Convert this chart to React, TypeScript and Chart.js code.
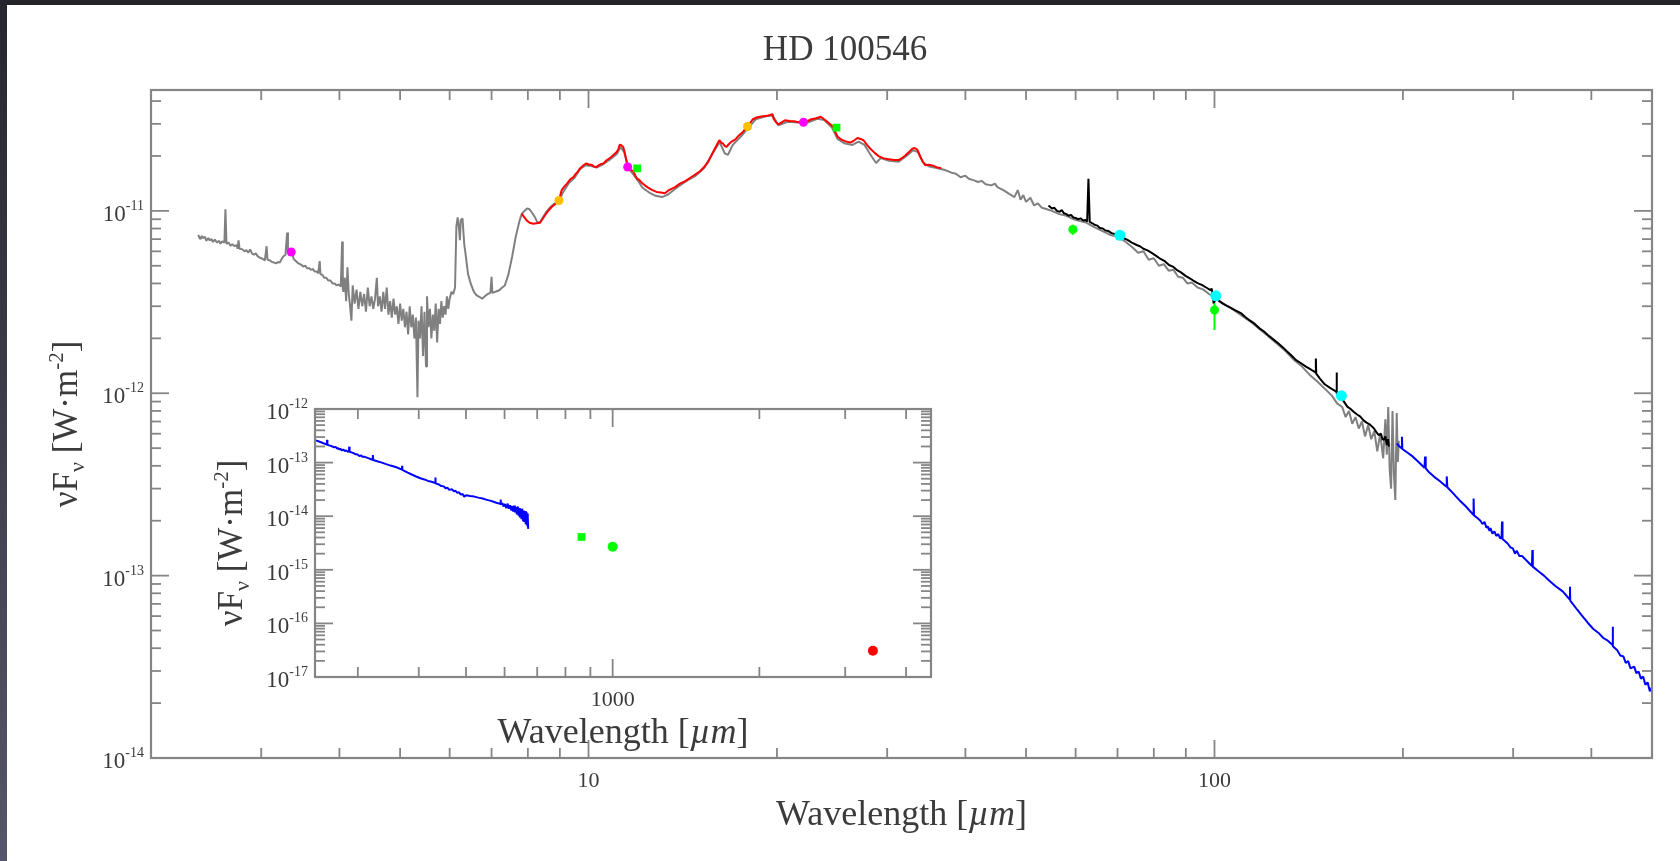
import React, { useEffect, useRef } from 'react';
import { Chart, registerables } from 'chart.js';

Chart.register(...registerables);

const SERIF = "'Liberation Serif', 'Times New Roman', serif";
const TEXT_COLOR = '#3b3b3b';
const AXIS_COLOR = '#858585';
const PW = 1e-12; // flux arrays below are in units of 1e-12 W m^-2

// ---------------- main panel: spectra (wavelength in µm, flux in 1e-12 W m^-2) ----------------
// gray (ISO) spectrum, split in pieces
const grayWaveA = [
  2.38, 2.39, 2.40, 2.41, 2.42, 2.44, 2.45, 2.47, 2.48, 2.50, 2.51, 2.53, 2.55, 2.57, 2.58, 2.60, 2.62, 2.63, 2.64, 2.66,
  2.68, 2.70, 2.72, 2.74, 2.75, 2.76, 2.77, 2.80, 2.82, 2.84, 2.86, 2.88, 2.90, 2.92, 2.94, 2.96, 2.98, 3.00, 3.02, 3.04,
  3.06, 3.07, 3.10, 3.12, 3.15, 3.17, 3.19, 3.21, 3.23, 3.25, 3.28, 3.30, 3.31, 3.33, 3.35, 3.37, 3.38, 3.40, 3.42, 3.44,
  3.46, 3.48, 3.50, 3.53, 3.55, 3.58, 3.60, 3.63, 3.65, 3.68, 3.70, 3.72, 3.73, 3.76, 3.78, 3.81, 3.84, 3.87, 3.90, 3.93,
  3.96, 3.99, 4.02, 4.04, 4.05,
];
const grayFluxA = [
  7.4, 7.1, 7.0, 7.3, 7.1, 7.2, 6.85, 7.1, 6.9, 7.0, 6.75, 6.95, 6.7, 6.85, 6.6, 6.8, 6.7, 10.2, 6.6, 6.7,
  6.45, 6.55, 6.4, 6.5, 6.2, 6.9, 6.2, 6.15, 6.0, 6.1, 5.9, 6.15, 5.85, 5.75, 5.85, 5.65, 5.55, 5.5, 5.45, 5.35,
  6.4, 5.4, 5.35, 5.25, 5.2, 5.15, 5.25, 5.2, 5.4, 5.6, 5.75, 7.6, 5.9, 6.1, 5.9, 5.7, 5.45, 5.35, 5.25, 5.15,
  5.1, 5.05, 4.95, 5.0, 4.85, 4.85, 4.75, 4.8, 4.65, 4.65, 4.55, 5.3, 4.5, 4.45, 4.3, 4.3, 4.15, 4.15, 4.0, 4.0,
  3.9, 3.95, 3.85, 6.8, 3.7,
];
const grayWaveB = [
  4.06, 4.08, 4.10, 4.12, 4.14, 4.16, 4.18, 4.20, 4.23, 4.26, 4.29, 4.32, 4.35, 4.38, 4.41, 4.44, 4.47, 4.50, 4.53, 4.56,
  4.59, 4.61, 4.64, 4.67, 4.70, 4.73, 4.76, 4.79, 4.82, 4.85, 4.88, 4.91, 4.94, 4.97, 5.00, 5.03, 5.06, 5.09, 5.12, 5.15,
  5.18, 5.21, 5.24, 5.27, 5.30, 5.33, 5.35, 5.38, 5.41, 5.44, 5.47, 5.50, 5.52, 5.55, 5.58, 5.61, 5.64, 5.67, 5.70, 5.73,
  5.76, 5.79, 5.82, 5.85, 5.88, 5.91, 5.94, 5.97, 6.00, 6.04, 6.08, 6.12,
];
const grayFluxB = [
  3.6, 4.3, 3.2, 4.9, 3.5, 3.0, 2.5, 3.9, 3.1, 3.7, 2.9, 3.6, 3.0, 3.5, 2.8, 3.8, 3.0, 3.4, 2.9, 3.3,
  4.3, 3.0, 3.4, 2.8, 3.6, 2.9, 3.8, 2.7, 3.2, 2.6, 3.3, 2.7, 3.0, 2.4, 3.1, 2.5, 2.9, 2.3, 2.8, 2.1,
  3.0, 2.3, 2.7, 2.0, 2.6, 0.95, 2.5, 2.0, 3.0, 1.6, 2.8, 1.4, 3.4, 2.3, 2.9, 2.0, 2.7, 2.2, 3.1, 1.9,
  2.9, 2.4, 3.2, 2.6, 3.0, 2.7, 3.4, 2.9, 3.3, 3.6, 3.5, 3.8,
];
const grayWaveC = [
  6.15, 6.18, 6.21, 6.23, 6.25, 6.29, 6.33, 6.37, 6.42, 6.49, 6.56, 6.62, 6.69, 6.76, 6.83, 6.90, 6.97, 7.00, 7.02, 7.10,
  7.20, 7.28, 7.35, 7.45, 7.55, 7.65, 7.75, 7.82, 7.90, 7.98, 8.05, 8.12, 8.20, 8.28, 8.36, 8.45, 8.55, 8.65, 8.80, 8.97,
  9.10, 9.30, 9.50, 9.70, 9.90, 10.1, 10.3, 10.5, 10.8, 11.1, 11.25, 11.4, 11.5, 11.6, 11.8, 12.0, 12.2, 12.5, 12.8, 13.1,
  13.4, 13.8, 14.3, 14.8, 15.3, 15.8, 16.2, 16.5, 16.7, 17.0, 17.5, 18.0, 18.5, 19.2, 19.7, 20.1, 20.8, 21.6, 22.4, 23.2,
  23.8, 24.5, 25.0, 25.6, 26.4, 27.0, 27.6, 28.3, 28.8, 29.3, 30.2, 31.3, 32.2, 33.0, 33.6, 34.2, 35.0, 36.0,
];
const grayFluxC = [
  8.2, 9.2, 8.0, 6.9, 8.9, 9.1, 6.6, 5.6, 4.5, 3.95, 3.6, 3.45, 3.38, 3.3, 3.4, 3.5, 3.55, 4.35, 3.55, 3.6,
  3.67, 3.8, 3.9, 4.5, 5.6, 7.2, 8.7, 9.6, 10.0, 10.3, 10.2, 9.8, 9.3, 8.7, 8.6, 9.2, 9.8, 10.3, 10.9, 11.3,
  12.6, 14.2, 15.2, 17.0, 17.8, 17.6, 17.3, 17.8, 19.0, 20.5, 22.4, 21.0, 19.0, 17.0, 15.8, 14.6, 13.4, 12.6, 12.1, 11.9,
  12.3, 13.3, 14.5, 15.5, 17.2, 20.8, 23.8, 20.7, 20.3, 23.0, 25.5, 28.5, 31.8, 33.0, 33.3, 29.5, 30.8, 30.5, 30.5, 32.0,
  31.5, 28.5, 24.8, 23.5, 23.0, 24.0, 23.0, 20.0, 18.3, 19.5, 18.8, 18.6, 20.0, 21.5, 21.0, 18.5, 17.5, 17.2,
];
const grayWaveD = [
  37.0, 38.0, 38.6, 39.3, 40.0, 40.5, 41.3, 41.9, 42.5, 43.1, 44.0, 44.6, 45.0, 46.0, 47.0, 47.9, 48.5, 49.0, 49.5, 50.0,
  50.8, 51.5, 52.2, 53.0, 54.0, 55.0, 56.5, 58.0, 59.5, 61.0, 62.5, 64.0, 66.0, 68.0, 70.0, 72.0, 74.0, 75.5, 77.0, 78.5,
  80.0, 81.5, 83.0, 84.5, 86.0, 87.5, 89.0, 90.5, 92.0, 94.0, 96.0, 98.0, 100, 103, 106, 110, 114, 118, 122, 126,
  130, 134, 138, 142, 146, 150, 154, 157, 160, 162, 164, 166, 168, 170, 172, 174, 176, 178, 180, 182,
  184, 186, 187.5, 188.5, 189.5, 190.5, 191.5, 192.5, 193.5, 194.5, 195.5, 196.3, 197,
];
const grayFluxD = [
  16.8, 16.2, 16.0, 15.3, 15.6, 15.0, 14.7, 14.4, 14.6, 14.0, 13.8, 14.1, 13.5, 13.0, 12.4, 11.9, 13.0, 11.5, 12.2, 11.2,
  11.8, 10.7, 11.0, 10.4, 10.2, 10.0, 9.6, 9.4, 9.0, 8.8, 8.6, 8.2, 7.8, 7.4, 7.2, 6.8, 6.3, 5.9, 6.0, 5.4,
  5.5, 5.0, 5.1, 4.7, 4.75, 4.35, 4.3, 4.0, 4.05, 3.8, 3.7, 3.5, 3.35, 3.1, 2.95, 2.7, 2.48, 2.25, 2.05, 1.86,
  1.7, 1.52, 1.4, 1.26, 1.16, 1.06, 0.97, 0.88, 0.84, 0.74, 0.8, 0.68, 0.74, 0.64, 0.7, 0.58, 0.67, 0.56, 0.62, 0.48,
  0.6, 0.44, 0.72, 0.46, 0.84, 0.38, 0.3, 0.8, 0.36, 0.26, 0.78, 0.42, 0.55,
];
const grayWave = [...grayWaveA, ...grayWaveB, ...grayWaveC, ...grayWaveD];
const grayFlux = [...grayFluxA, ...grayFluxB, ...grayFluxC, ...grayFluxD];

// red (Spitzer) spectrum
const redWaveA = [
  7.82, 7.88, 7.96, 8.05, 8.16, 8.26, 8.36, 8.44, 8.52, 8.62, 8.73, 8.85, 8.97, 9.02, 9.06, 9.15, 9.24, 9.35, 9.46, 9.53,
  9.6, 9.68, 9.75, 9.84, 9.92, 10.02, 10.12, 10.2, 10.3, 10.38, 10.45, 10.56, 10.7, 10.82, 10.95, 11.09, 11.16, 11.22, 11.28, 11.36,
  11.42, 11.47, 11.52, 11.56, 11.65, 11.79, 11.88, 11.96, 12.05, 12.15, 12.3, 12.45, 12.65, 12.84, 13.05, 13.24, 13.4, 13.57, 13.75, 14.0,
  14.25, 14.5, 14.8, 15.07, 15.3, 15.52, 15.7, 15.91, 16.05, 16.18, 16.3, 16.4, 16.5, 16.6, 16.75, 16.9, 17.15, 17.4, 17.65, 17.9,
];
const redFluxA = [
  9.68, 9.3, 8.89, 8.6, 8.5, 8.55, 8.6, 9.0, 9.46, 10.0, 10.5, 10.9, 11.4, 12.3, 13.0, 13.6, 14.1, 14.9, 15.3, 15.9,
  16.3, 17.0, 17.4, 17.9, 18.2, 17.9, 17.9, 17.5, 17.4, 17.8, 18.0, 18.2, 19.0, 19.5, 20.2, 21.0, 21.8, 23.1, 22.9, 22.4,
  21.0, 19.4, 18.2, 17.4, 16.8, 16.5, 15.6, 15.0, 14.8, 14.3, 13.8, 13.4, 13.0, 12.7, 12.6, 12.5, 12.9, 13.2, 13.5, 14.1,
  14.5, 15.1, 15.8, 16.5, 17.4, 18.5, 20.0, 21.9, 23.2, 24.4, 23.6, 23.4, 22.7, 22.4, 23.2, 23.9, 24.6, 26.0, 27.1, 28.9,
];
const redWaveB = [
  18.1, 18.3, 18.6, 18.99, 19.3, 19.6, 19.68, 19.75, 19.9, 20.1, 20.35, 20.6, 20.95, 21.3, 21.65, 22.0, 22.35, 22.7, 23.1, 23.5,
  23.7, 23.9, 24.25, 24.6, 24.8, 25.0, 25.35, 25.7, 25.95, 26.2, 26.55, 26.9, 27.2, 27.5, 27.85, 28.2, 28.65, 29.1, 29.65, 30.2,
  30.75, 31.3, 31.7, 32.1, 32.5, 32.9, 33.2, 33.5, 33.9, 34.2, 34.5, 35.0, 35.5, 36.05, 36.6,
];
const redFluxB = [
  30.2, 31.8, 32.6, 33.0, 33.2, 33.8, 33.9, 32.0, 30.8, 29.8, 30.6, 31.4, 31.1, 31.0, 30.6, 30.5, 31.0, 31.8, 32.2, 32.8,
  32.1, 31.4, 30.1, 28.9, 27.0, 25.5, 24.6, 24.1, 23.9, 23.7, 24.3, 25.1, 24.8, 24.4, 23.0, 21.9, 20.8, 19.9, 19.4, 19.2,
  19.0, 19.0, 19.5, 20.2, 21.0, 21.9, 22.1, 21.7, 19.8, 18.6, 17.8, 17.9, 17.7, 17.3, 17.2,
];
const redWave = [...redWaveA, ...redWaveB];
const redFlux = [...redFluxA, ...redFluxB];

// black (Herschel/PACS) spectrum
const blackWaveA = [
  54.3, 55.0, 55.5, 56.0, 56.6, 57.0, 57.5, 58.0, 58.5, 59.0, 59.5, 60.0, 60.5, 61.1, 61.7, 62.2, 62.6, 62.9, 63.2, 63.8,
  64.3, 65.0, 65.6, 66.3, 67.0, 67.7, 68.5, 69.5, 70.6, 71.5, 72.5, 73.8, 75.1, 76.0, 77.0, 78.3, 79.6, 80.8, 82.0, 83.3,
  84.6, 85.8, 87.0, 88.4, 89.9, 91.2, 92.5, 94.0, 95.6, 97.0, 98.5, 99.0, 99.3, 99.7,
];
const blackFluxA = [
  10.7, 10.3, 10.4, 10.0, 9.9, 10.1, 9.7, 9.6, 9.4, 9.5, 9.2, 9.15, 9.0, 9.1, 8.85, 8.9, 8.75, 15.0, 8.7, 8.55,
  8.4, 8.3, 8.05, 8.0, 7.8, 7.75, 7.55, 7.45, 7.35, 7.1, 6.95, 6.7, 6.5, 6.4, 6.2, 6.05, 5.85, 5.65, 5.45, 5.3,
  5.05, 4.95, 4.75, 4.6, 4.4, 4.28, 4.15, 4.02, 3.92, 3.8, 3.68, 3.75, 3.5, 3.1,
];
const blackWaveB = [
  100.5, 101.3, 102.1, 104, 106, 108, 110.4, 112, 114, 116, 118, 120, 122, 124, 126.4, 128.5, 130.5, 133, 135, 137.5,
  140, 142.5, 145.0, 145.2, 145.4, 147.5, 150, 153, 156.5, 156.7, 156.9, 159.5, 161, 163, 165, 167, 169, 171, 173, 175,
  177, 179.7, 181.5, 183, 184.5, 185.5, 186.5, 187.5, 188.5, 189.3, 190,
];
const blackFluxB = [
  3.3, 3.25, 3.18, 3.05, 2.95, 2.85, 2.74, 2.62, 2.5, 2.4, 2.27, 2.18, 2.07, 1.98, 1.88, 1.79, 1.7, 1.6, 1.52, 1.46,
  1.4, 1.35, 1.3, 1.55, 1.28, 1.2, 1.12, 1.07, 1.02, 1.3, 1.0, 0.94, 0.9, 0.845, 0.82, 0.79, 0.765, 0.745, 0.71, 0.69,
  0.675, 0.643, 0.61, 0.59, 0.6, 0.56, 0.555, 0.58, 0.52, 0.56, 0.51,
];
const blackWave = [...blackWaveA, ...blackWaveB];
const blackFlux = [...blackFluxA, ...blackFluxB];

// blue (Herschel/SPIRE) spectrum
const blueWaveA = [
  195.6, 197.5, 199.0, 199.3, 199.6, 203, 207.5, 211, 216.5, 217, 217.5, 220, 224.4, 229, 234.5, 235, 235.5, 240, 246, 252,
  259, 259.4, 259.8, 263, 266, 268, 270, 272, 273.3, 275, 276, 278, 280, 282, 284, 286, 287.5, 288, 288.5, 291,
  294, 297, 299.7, 302, 304, 307, 310, 316, 321.5, 322, 322.5, 330, 336, 341.7, 350, 360, 369.5, 369.8, 370.1, 379.8,
];
const blueFluxA = [
  0.531, 0.51, 0.50, 0.578, 0.495, 0.475, 0.449, 0.425, 0.39, 0.45, 0.387, 0.37, 0.348, 0.33, 0.308, 0.35, 0.305, 0.285, 0.26, 0.24,
  0.216, 0.265, 0.214, 0.207, 0.2, 0.192, 0.197, 0.183, 0.186, 0.176, 0.182, 0.17, 0.175, 0.165, 0.169, 0.16, 0.161, 0.198, 0.159, 0.155,
  0.15, 0.143, 0.141, 0.132, 0.137, 0.128, 0.128, 0.12, 0.113, 0.138, 0.112, 0.105, 0.1, 0.0946, 0.088, 0.082, 0.074, 0.087, 0.073, 0.065,
];
const blueWaveB = [
  387, 395, 403, 410.7, 418, 425, 432.5, 432.8, 433.1, 440, 445, 450.2, 454, 458, 462, 468.3, 472, 476, 480, 483.9,
  488, 492, 496, 500, 510, 520, 530, 541, 550, 560, 568, 575, 582, 588.5, 589, 589.5, 594, 597, 601, 605,
  609, 612, 616, 619.6, 623, 625, 628, 630, 633, 636, 639, 641, 643, 645, 648, 650, 652, 655, 657, 659,
  661, 663, 665, 666, 668, 669, 670, 671,
];
const blueFluxB = [
  0.06, 0.055, 0.051, 0.0485, 0.0455, 0.044, 0.0417, 0.0525, 0.041, 0.039, 0.0365, 0.036, 0.0332, 0.034, 0.031, 0.0317, 0.0292, 0.0298, 0.0272, 0.028,
  0.0252, 0.026, 0.0232, 0.0245, 0.0238, 0.0232, 0.0222, 0.0214, 0.0204, 0.0195, 0.0188, 0.018, 0.0174, 0.017, 0.0205, 0.0165, 0.0175, 0.0152, 0.0168, 0.0142,
  0.0172, 0.0138, 0.016, 0.0128, 0.0155, 0.0122, 0.0158, 0.0118, 0.0148, 0.0108, 0.0152, 0.0102, 0.0142, 0.0095, 0.0135, 0.0088, 0.0138, 0.0082, 0.0128, 0.0078,
  0.0125, 0.0072, 0.0118, 0.0068, 0.0112, 0.0062, 0.0095, 0.0058,
];
const blueWave = [...blueWaveA, ...blueWaveB];
const blueFlux = [...blueFluxA, ...blueFluxB];

// ---------------- photometry (main panel, 1e-12 W m^-2) ----------------
const magentaWave = [3.35, 11.55, 22.05];
const magentaFlux = [5.95, 17.4, 30.6];
const orangeWave = [8.97, 17.95];
const orangeFlux = [11.4, 29.0];
const greenSqWave = [11.96, 24.9];
const greenSqFlux = [17.1, 28.6];
const greenWave = [59.4, 100];
const greenFlux = [7.9, 2.86];
const greenErrLo = [7.4, 2.22];
const greenErrHi = [8.4, 3.12];
const cyanWave = [70.6, 100.5, 159.5];
const cyanFlux = [7.35, 3.42, 0.97];

// ---------------- photometry (inset, W m^-2) ----------------
const insetSquareWave = [863];
const insetSquareFlux = [4.1e-15];
const insetGreenWave = [1000];
const insetGreenFlux = [2.7e-15];
const insetGreenLo = [2.3e-15];
const insetGreenHi = [3.2e-15];
const insetRedWave = [3420];
const insetRedFlux = [3.1e-17];

// ---------------- axes ----------------
const mainXRange = [2, 500];
const mainYRange = [1e-14, 4.6e-11];
const mainXMajor = [10, 100];
const mainXLabels = ['10', '100'];
const mainXMinor = [3, 4, 5, 6, 7, 8, 9, 20, 30, 40, 50, 60, 70, 80, 90, 200, 300, 400];
const mainYMajor = [1e-14, 1e-13, 1e-12, 1e-11];
const mainYExps = ['-14', '-13', '-12', '-11'];
const mainYMinor = [2, 3, 4, 5, 6, 7, 8, 9].flatMap((m) => [m * 1e-14, m * 1e-13, m * 1e-12]).concat([2e-11, 3e-11, 4e-11]);

const insetXRange = [245, 4500];
const insetYRange = [1e-17, 1e-12];
const insetXMajor = [1000];
const insetXLabels = ['1000'];
const insetXMinor = [300, 400, 500, 600, 700, 800, 900, 2000, 3000, 4000];
const insetYMajor = [1e-17, 1e-16, 1e-15, 1e-14, 1e-13, 1e-12];
const insetYExps = ['-17', '-16', '-15', '-14', '-13', '-12'];
const insetYMinor = [2, 3, 4, 5, 6, 7, 8, 9].flatMap((m) => [m * 1e-17, m * 1e-16, m * 1e-15, m * 1e-14, m * 1e-13]);

const xy = (w: number[], f: number[], scale = PW) => w.map((x, i) => ({ x, y: f[i] * scale }));

type Piece = { t: string; size: number; italic?: boolean; dy?: number };

const setFont = (ctx: CanvasRenderingContext2D, size: number, italic = false) => {
  ctx.font = `${italic ? 'italic ' : ''}${size}px ${SERIF}`;
};

function drawPieces(ctx: CanvasRenderingContext2D, pieces: Piece[], cx: number, baseline: number) {
  let total = 0;
  const widths = pieces.map((p) => {
    setFont(ctx, p.size, p.italic);
    const w = ctx.measureText(p.t).width;
    total += w;
    return w;
  });
  let x = cx - total / 2;
  ctx.textAlign = 'left';
  ctx.textBaseline = 'alphabetic';
  pieces.forEach((p, i) => {
    setFont(ctx, p.size, p.italic);
    ctx.fillText(p.t, x, baseline + (p.dy || 0));
    x += widths[i];
  });
}

const xTitlePieces: Piece[] = [
  { t: 'Wavelength [', size: 36 },
  { t: 'µm', size: 36, italic: true },
  { t: ']', size: 36 },
];
const yTitlePieces: Piece[] = [
  { t: 'νF', size: 35 },
  { t: 'ν', size: 22, dy: 7 },
  { t: ' [W·m', size: 35 },
  { t: '-2', size: 21, dy: -14 },
  { t: ']', size: 35 },
];

interface FrameSpec {
  xMajor: number[];
  xMinor: number[];
  xLabels: string[];
  yMajor: number[];
  yMinor: number[];
  yExps: string[];
  xTitleBaseline: number;
  yTitleX: number;
  title?: string;
  titleX?: number;
  titleBaseline?: number;
}

function framePlugin(spec: FrameSpec) {
  return {
    id: 'frameAxes',
    afterDatasetsDraw(chart: any) {
      const { ctx, chartArea: a } = chart;
      const xs = chart.scales.x;
      const ys = chart.scales.y;
      const MAJ = 18;
      const MIN = 10;
      ctx.save();
      ctx.strokeStyle = AXIS_COLOR;
      ctx.lineWidth = 1.8;
      const line = (x1: number, y1: number, x2: number, y2: number) => {
        ctx.beginPath();
        ctx.moveTo(x1, y1);
        ctx.lineTo(x2, y2);
        ctx.stroke();
      };
      const xt = (vals: number[], len: number) =>
        vals.forEach((v) => {
          const p = xs.getPixelForValue(v);
          line(p, a.bottom, p, a.bottom - len);
          line(p, a.top, p, a.top + len);
        });
      const yt = (vals: number[], len: number) =>
        vals.forEach((v) => {
          const p = ys.getPixelForValue(v);
          line(a.left, p, a.left + len, p);
          line(a.right, p, a.right - len, p);
        });
      xt(spec.xMajor, MAJ);
      xt(spec.xMinor, MIN);
      yt(spec.yMajor, MAJ);
      yt(spec.yMinor, MIN);
      ctx.lineWidth = 2.2;
      ctx.strokeRect(a.left, a.top, a.right - a.left, a.bottom - a.top);

      ctx.fillStyle = TEXT_COLOR;
      setFont(ctx, 22);
      ctx.textAlign = 'center';
      ctx.textBaseline = 'alphabetic';
      spec.xMajor.forEach((v, i) => ctx.fillText(spec.xLabels[i], xs.getPixelForValue(v), a.bottom + 29));

      ctx.textAlign = 'left';
      spec.yMajor.forEach((v, i) => {
        const p = ys.getPixelForValue(v);
        const exp = spec.yExps[i];
        setFont(ctx, 14);
        const ew = ctx.measureText(exp).width;
        setFont(ctx, 23);
        const bw = ctx.measureText('10').width;
        const right = a.left - 7;
        ctx.fillText('10', right - ew - bw, p + 10);
        setFont(ctx, 14);
        ctx.fillText(exp, right - ew, p - 1);
      });

      drawPieces(ctx, xTitlePieces, (a.left + a.right) / 2, spec.xTitleBaseline);
      ctx.save();
      ctx.translate(spec.yTitleX, (a.top + a.bottom) / 2);
      ctx.rotate(-Math.PI / 2);
      drawPieces(ctx, yTitlePieces, 0, 0);
      ctx.restore();

      if (spec.title) {
        drawPieces(ctx, [{ t: spec.title, size: 35 }], spec.titleX || 0, spec.titleBaseline || 0);
      }
      ctx.restore();
    },
  };
}

const lineDs = (data: any[], color: string, order: number) => ({
  data,
  borderColor: color,
  backgroundColor: color,
  borderWidth: 2,
  pointRadius: 0,
  fill: false,
  tension: 0,
  borderJoinStyle: 'bevel',
  order,
});

const markerDs = (data: any[], color: string, radius: number, style = 'circle') => ({
  data,
  showLine: false,
  pointRadius: radius,
  pointStyle: style,
  pointBackgroundColor: color,
  pointBorderColor: color,
  pointBorderWidth: 0,
  borderColor: color,
  backgroundColor: color,
  order: 0,
});

const errDs = (x: number, lo: number, hi: number, color: string) => ({
  data: [
    { x, y: lo },
    { x, y: hi },
  ],
  borderColor: color,
  borderWidth: 2,
  pointRadius: 0,
  fill: false,
  order: 1,
});

const baseOptions = (padding: any, xr: number[], yr: number[]) => ({
  animation: false,
  responsive: false,
  maintainAspectRatio: false,
  devicePixelRatio: 1,
  events: [],
  layout: { padding },
  scales: {
    x: { type: 'logarithmic', min: xr[0], max: xr[1], display: false },
    y: { type: 'logarithmic', min: yr[0], max: yr[1], display: false },
  },
  plugins: { legend: { display: false }, tooltip: { enabled: false }, title: { display: false } },
});

export default function App() {
  const mainRef = useRef<HTMLCanvasElement>(null);
  const insetRef = useRef<HTMLCanvasElement>(null);

  useEffect(() => {
    const main = new Chart(mainRef.current as HTMLCanvasElement, {
      type: 'line',
      data: {
        datasets: [
          lineDs(xy(grayWave, grayFlux), '#808080', 5),
          lineDs(xy(redWave, redFlux), '#ff0000', 4),
          lineDs(xy(blackWave, blackFlux), '#000000', 3),
          lineDs(xy(blueWave, blueFlux), '#0000ff', 2),
          ...greenWave.map((w, i) => errDs(w, greenErrLo[i] * PW, greenErrHi[i] * PW, '#00ff00')),
          markerDs(xy(magentaWave, magentaFlux), '#ff00ff', 4.5),
          markerDs(xy(orangeWave, orangeFlux), '#ffbf00', 4.5),
          markerDs(xy(greenSqWave, greenSqFlux), '#00ff00', 5.5, 'rect'),
          markerDs(xy(greenWave, greenFlux), '#00ff00', 4.5),
          markerDs(xy(cyanWave, cyanFlux), '#00ffff', 5.5),
        ] as any,
      },
      options: baseOptions({ left: 151, top: 90, right: 28, bottom: 103 }, mainXRange, mainYRange) as any,
      plugins: [
        framePlugin({
          xMajor: mainXMajor,
          xMinor: mainXMinor,
          xLabels: mainXLabels,
          yMajor: mainYMajor,
          yMinor: mainYMinor,
          yExps: mainYExps,
          xTitleBaseline: 825,
          yTitleX: 77,
          title: 'HD 100546',
          titleX: 845,
          titleBaseline: 60,
        }) as any,
      ],
    });

    const inset = new Chart(insetRef.current as HTMLCanvasElement, {
      type: 'line',
      data: {
        datasets: [
          lineDs(xy(blueWave, blueFlux), '#0000ff', 2),
          errDs(insetGreenWave[0], insetGreenLo[0], insetGreenHi[0], '#00ff00'),
          markerDs(xy(insetSquareWave, insetSquareFlux, 1), '#00ff00', 5.5, 'rect'),
          markerDs(xy(insetGreenWave, insetGreenFlux, 1), '#00ff00', 5),
          markerDs(xy(insetRedWave, insetRedFlux, 1), '#ff0000', 5),
        ] as any,
      },
      options: baseOptions({ left: 315, top: 409, right: 749, bottom: 184 }, insetXRange, insetYRange) as any,
      plugins: [
        framePlugin({
          xMajor: insetXMajor,
          xMinor: insetXMinor,
          xLabels: insetXLabels,
          yMajor: insetYMajor,
          yMinor: insetYMinor,
          yExps: insetYExps,
          xTitleBaseline: 743,
          yTitleX: 242,
        }) as any,
      ],
    });

    return () => {
      main.destroy();
      inset.destroy();
    };
  }, []);

  const canvasStyle: React.CSSProperties = { position: 'absolute', left: 0, top: 0, width: 1680, height: 861 };
  return (
    <div style={{ position: 'fixed', left: 0, top: 0, width: 1680, height: 861, background: '#ffffff', overflow: 'hidden' }}>
      <div style={{ position: 'absolute', left: 0, top: 0, width: 1680, height: 5, background: '#232328' }} />
      <div
        style={{
          position: 'absolute',
          left: 0,
          top: 0,
          width: 7,
          height: 861,
          background: 'linear-gradient(#26262e, #56566a)',
        }}
      />
      <canvas ref={mainRef} width={1680} height={861} style={canvasStyle} />
      <canvas ref={insetRef} width={1680} height={861} style={canvasStyle} />
    </div>
  );
}
